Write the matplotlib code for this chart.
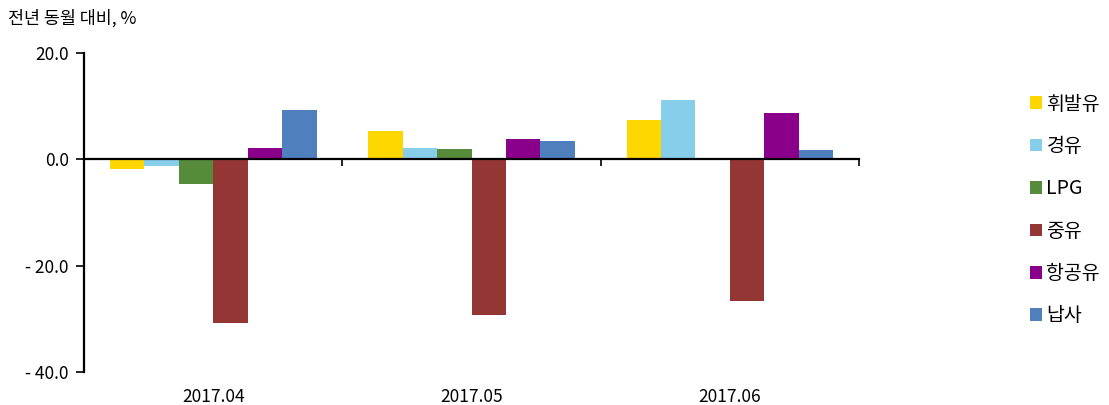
import numpy as np
import matplotlib
matplotlib.use("Agg")
import matplotlib.pyplot as plt
import matplotlib.transforms as mtransforms

plt.rcParams['font.family'] = ['Noto Sans CJK KR', 'DejaVu Sans']

# --- data ---
months = ["2017.04", "2017.05", "2017.06"]
series_names = ["휘발유", "경유", "LPG", "중유", "항공유", "납사"]
gasoline = [-1.8, 5.4, 7.5]
diesel = [-1.3, 2.2, 11.1]
lpg = [-4.6, 1.9, 0.0]
bunker = [-30.7, -29.3, -26.6]
jet_fuel = [2.2, 3.8, 8.8]
naphtha = [9.3, 3.4, 1.7]
colors = ["#FFD700", "#87CEEB", "#558B3A", "#943634", "#8B008B", "#4F7FBD"]

y_ticks = [20, 0, -20, -40]
y_tick_labels = ["20.0", "0.0", "- 20.0", "- 40.0"]

all_series = [gasoline, diesel, lpg, bunker, jet_fuel, naphtha]

fig = plt.figure(figsize=(11.09, 4.05), dpi=100)
ax = fig.add_axes([0.0757, 0.0815, 0.699, 0.7875])

x = np.arange(len(months))
n = len(all_series)
width = 0.8 / n
for i, (vals, name, c) in enumerate(zip(all_series, series_names, colors)):
    offs = (i - (n - 1) / 2) * width
    ax.bar(x + offs, vals, width, color=c, label=name, zorder=2)

ax.set_xlim(-0.5, len(months) - 0.5)
ax.set_ylim(-40, 20)
ax.set_yticks(y_ticks)
ax.set_yticklabels(y_tick_labels, fontsize=12.5)

# x axis line sits at zero, category separators as ticks
ax.spines['top'].set_visible(False)
ax.spines['right'].set_visible(False)
ax.spines['bottom'].set_position(('data', 0))
ax.spines['bottom'].set_linewidth(1.6)
ax.spines['left'].set_linewidth(1.6)
ax.set_xticks(np.arange(len(months)) + 0.5)
ax.set_xticklabels([])
ax.tick_params(axis='x', direction='out', length=5, width=1.2)
ax.tick_params(axis='y', direction='out', length=6, width=1.2, pad=5)

trans = mtransforms.blended_transform_factory(ax.transData, fig.transFigure)
for xi, m in zip(x, months):
    ax.text(xi, 1 - 397 / 405, m, transform=trans, ha='center', va='center', fontsize=12.5)

fig.text(8 / 1109, 1 - 18 / 405, "전년 동월 대비, %", ha='left', va='center', fontsize=12.5)

fig.legend(loc='center left', bbox_to_anchor=(1012 / 1109, 1 - 210 / 405),
           frameon=False, fontsize=14, handlelength=0.62, handleheight=0.62,
           handletextpad=0.25, labelspacing=1.1)

fig.savefig("out.png", dpi=100)
